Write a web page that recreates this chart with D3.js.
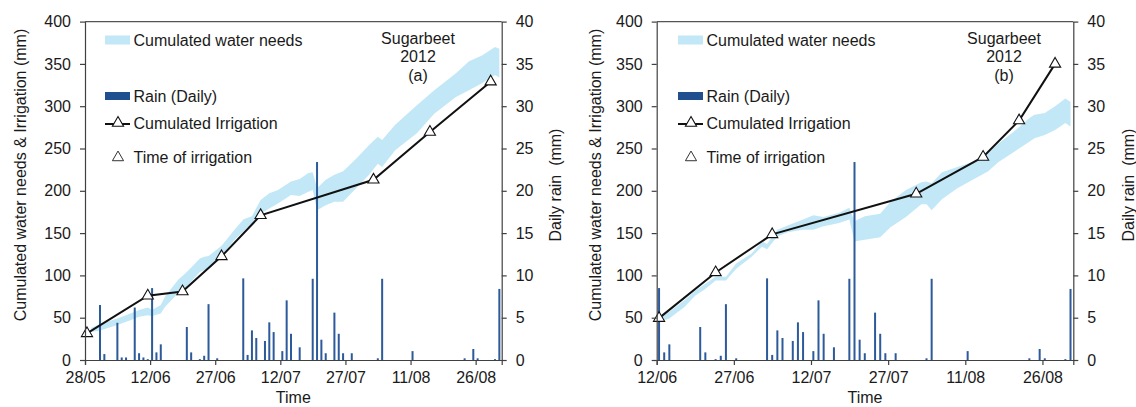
<!DOCTYPE html>
<html>
<head>
<meta charset="utf-8">
<script src="https://cdn.jsdelivr.net/npm/d3@7"></script>
<style>
  body { margin: 0; background: #fff; }
  svg text { font-family: Arial, "Liberation Sans", sans-serif; fill: #1a1a1a; }
  .axis path, .axis line { stroke: #404040; stroke-width: 1.2px; }
  .axis text { font-size: 16px; fill: #1a1a1a; }
</style>
</head>
<body>
<svg id="chart" width="1136" height="407"></svg>
<script>
// daily rain (mm), same weather for both fields
const rainDates = ["31/05","01/06","04/06","05/06","06/06","08/06","09/06","10/06","11/06","12/06",
  "13/06","14/06","20/06","21/06","23/06","24/06","25/06","27/06","03/07","04/07",
  "05/07","06/07","08/07","09/07","10/07","12/07","13/07","14/07","16/07","19/07",
  "20/07","21/07","22/07","24/07","25/07","26/07","28/07","03/08","04/08","11/08",
  "23/08","25/08","26/08","30/08","31/08"];
const rainMm = [6.5,0.7,4.4,0.3,0.3,6.2,0.8,0.3,0.1,8.5,
  0.9,1.85,3.9,0.9,0.1,0.5,6.6,0.2,9.65,0.6,
  3.5,2.6,2.25,4.45,3.3,1.05,7.05,3.1,1.5,9.6,
  23.4,2.4,0.8,5.6,3.1,0.8,0.8,0.2,9.6,1.05,
  0.2,1.3,0.2,0.1,8.4];

// (a) cumulated water needs band and irrigation
const needsDatesA = ["29/05","31/05","04/06","07/06","09/06","11/06","12/06","14/06","15/06","18/06",
  "20/06","23/06","24/06","25/06","28/06","01/07","03/07","04/07","05/07","07/07",
  "09/07","11/07","14/07","16/07","18/07","19/07","20/07","22/07","24/07","26/07",
  "29/07","01/08","03/08","04/08","07/08","12/08","16/08","21/08","24/08","27/08",
  "30/08","31/08"];
const needsLowA = [33,35,41.5,47,51,53,52,55,63,79,
  87,104,106,108,122,142,152,157,158,173,
  179,185,195,194,199,201,177,183,187,187,
  203,219,232,228,248,268,291,311,319,327,
  337,334];
const needsHighA = [38,42.5,49,55,59,62,59,65,75,95,
  104,120,122,123,135,154,166,168,170,189,
  197,201,211,214,221,222,203,213,219,223,
  238,254,264,260,278,301,319,339,353,360,
  370,368];
const irrigDatesA = ["28/05","11/06","19/06","28/06","07/07","02/08","15/08","29/08"];
const irrigA = [31.5,76,81,122.5,171,213,269.5,329];

// (b)
const needsDatesB = ["12/06","14/06","17/06","19/06","21/06","23/06","25/06","27/06","30/06","02/07",
  "03/07","05/07","07/07","10/07","12/07","14/07","17/07","19/07","20/07","22/07",
  "25/07","27/07","30/07","02/08","03/08","04/08","06/08","09/08","12/08","15/08",
  "17/08","20/08","23/08","24/08","26/08","28/08","30/08","31/08"];
const needsLowB = [45,49,63,76,84,94,94,108,122,134,
  131,146,151,154,154,158,162,166,140,142,
  145,157,169,184,184,177,190,203,213,223,
  234,246,258,262,266,272,280,276];
const needsHighB = [51,57,71,82,90,98.5,98.5,114,126,140,
  137,154,159,166,171,169,174,180,164,170,
  173,187,201,210,211,209,222,228,234,245,
  256,270,286,290,292,300,309,305];
const irrigDatesB = ["12/06","23/06","04/07","01/08","14/08","21/08","28/08"];
const irrigB = [49.5,103.5,148.5,196.5,240,283,350];

const xTicksA = ["28/05","12/06","27/06","12/07","27/07","11/08","26/08"];
const xTicksB = ["12/06","27/06","12/07","27/07","11/08","26/08"];
const leftTicks = [0,50,100,150,200,250,300,350,400];
const rightTicks = [0,5,10,15,20,25,30,35,40];

const parse = s => d3.timeParse("%d/%m/%Y")(s + "/2012");
const mid = s => d3.timeHour.offset(parse(s), 11);

const svg = d3.select("#chart");
const plotTop = 21.6, plotBottom = 360;

function drawPanel(p) {
  const g = svg.append("g");
  const x = d3.scaleTime()
    .domain([parse(p.start), parse("01/09")])
    .range([p.left, p.right]);
  const y = d3.scaleLinear().domain([0, 400]).range([plotBottom, plotTop]);
  const yRain = d3.scaleLinear().domain([0, 40]).range([plotBottom, plotTop]);

  // water needs band
  const band = p.needsDates.map((d, i) => ({ d: mid(d), lo: p.needsLow[i], hi: p.needsHigh[i] }));
  g.append("path")
    .datum(band)
    .attr("fill", "#c2e8f7")
    .attr("d", d3.area().x(d => x(d.d)).y0(d => y(d.lo)).y1(d => y(d.hi)));

  // rain bars
  const rain = rainDates.map((d, i) => ({ d: mid(d), v: rainMm[i] }))
    .filter(r => r.d >= parse(p.start));
  g.selectAll(".rain")
    .data(rain)
    .enter().append("rect")
    .attr("class", "rain")
    .attr("x", r => x(r.d) - 1)
    .attr("width", 2)
    .attr("y", r => yRain(r.v))
    .attr("height", r => plotBottom - yRain(r.v))
    .attr("fill", "#2c5a9a");

  // cumulated irrigation
  const irr = p.irrigDates.map((d, i) => ({ d: mid(d), v: p.irrig[i] }));
  g.append("path")
    .datum(irr)
    .attr("fill", "none")
    .attr("stroke", "#111")
    .attr("stroke-width", 2)
    .attr("d", d3.line().x(d => x(d.d)).y(d => y(d.v)));

  const tri = d3.symbol().type(d3.symbolTriangle).size(54);
  g.selectAll(".tri")
    .data(irr)
    .enter().append("path")
    .attr("class", "tri")
    .attr("d", tri)
    .attr("transform", d => "translate(" + x(d.d) + "," + y(d.v) + ")")
    .attr("fill", "#fff")
    .attr("stroke", "#111")
    .attr("stroke-width", 1.1);

  // axes
  g.append("g")
    .attr("class", "axis")
    .attr("transform", "translate(0," + plotBottom + ")")
    .call(d3.axisBottom(x)
      .tickValues(p.xTicks.map(parse))
      .tickFormat(d3.timeFormat("%d/%m"))
      .tickSizeOuter(0).tickSize(5).tickPadding(7));

  g.append("g")
    .attr("class", "axis")
    .attr("transform", "translate(" + p.left + ",0)")
    .call(d3.axisLeft(y).tickValues(leftTicks).tickSize(5).tickSizeOuter(0).tickPadding(9));

  g.append("g")
    .attr("class", "axis")
    .attr("transform", "translate(" + p.right + ",0)")
    .call(d3.axisRight(yRain).tickValues(rightTicks).tickSize(5).tickSizeOuter(0).tickPadding(9));

  // top frame line
  g.append("line")
    .attr("x1", p.left).attr("x2", p.right)
    .attr("y1", plotTop).attr("y2", plotTop)
    .attr("stroke", "#555").attr("stroke-width", 1.2);

  // axis titles
  g.append("text")
    .attr("transform", "translate(" + p.yTitleX + "," + 175 + ") rotate(-90)")
    .attr("text-anchor", "middle").attr("dy", "0.35em")
    .style("font-size", "16px")
    .text("Cumulated water needs & Irrigation (mm)");

  g.append("text")
    .attr("transform", "translate(" + p.rTitleX + "," + 185 + ") rotate(-90)")
    .attr("text-anchor", "middle").attr("dy", "0.35em")
    .style("font-size", "16px")
    .style("white-space", "pre")
    .text("Daily rain  (mm)");

  g.append("text")
    .attr("x", (p.left + p.right) / 2).attr("y", 403)
    .attr("text-anchor", "middle")
    .style("font-size", "16px")
    .text("Time");

  // legend
  const lx = p.legendX;
  g.append("rect")
    .attr("x", lx).attr("y", 35.5).attr("width", 25).attr("height", 9)
    .attr("fill", "#c2e8f7");
  g.append("rect")
    .attr("x", lx).attr("y", 92).attr("width", 25).attr("height", 8)
    .attr("fill", "#1f4f8e");
  g.append("line")
    .attr("x1", lx).attr("x2", lx + 25).attr("y1", 124).attr("y2", 124)
    .attr("stroke", "#111").attr("stroke-width", 2);
  g.append("path")
    .attr("d", tri)
    .attr("transform", "translate(" + (lx + 13) + ",123)")
    .attr("fill", "#fff").attr("stroke", "#111").attr("stroke-width", 1.1);
  g.append("path")
    .attr("d", tri)
    .attr("transform", "translate(" + (lx + 13) + ",157.5)")
    .attr("fill", "#fff").attr("stroke", "#333").attr("stroke-width", 1);

  const legendTexts = [["Cumulated water needs", 40], ["Rain (Daily)", 96],
    ["Cumulated Irrigation", 123.7], ["Time of irrigation", 157.7]];
  g.selectAll(".leg")
    .data(legendTexts)
    .enter().append("text")
    .attr("x", lx + 28.5)
    .attr("y", d => d[1])
    .attr("dy", "0.35em")
    .style("font-size", "16px")
    .text(d => d[0]);

  // crop label
  g.selectAll(".lab")
    .data(["Sugarbeet", "2012", p.tag])
    .enter().append("text")
    .attr("x", p.labelX)
    .attr("y", (d, i) => 38.5 + i * 18.3)
    .attr("dy", "0.35em")
    .attr("text-anchor", "middle")
    .style("font-size", "16px")
    .text(d => d);
}

drawPanel({
  start: "28/05", left: 85, right: 501.7, xTicks: xTicksA,
  needsDates: needsDatesA, needsLow: needsLowA, needsHigh: needsHighA,
  irrigDates: irrigDatesA, irrig: irrigA,
  yTitleX: 20, rTitleX: 555.5, legendX: 105, labelX: 418, tag: "(a)"
});

drawPanel({
  start: "12/06", left: 656.7, right: 1073.3, xTicks: xTicksB,
  needsDates: needsDatesB, needsLow: needsLowB, needsHigh: needsHighB,
  irrigDates: irrigDatesB, irrig: irrigB,
  yTitleX: 595.5, rTitleX: 1128.5, legendX: 678, labelX: 1004, tag: "(b)"
});
</script>
</body>
</html>
